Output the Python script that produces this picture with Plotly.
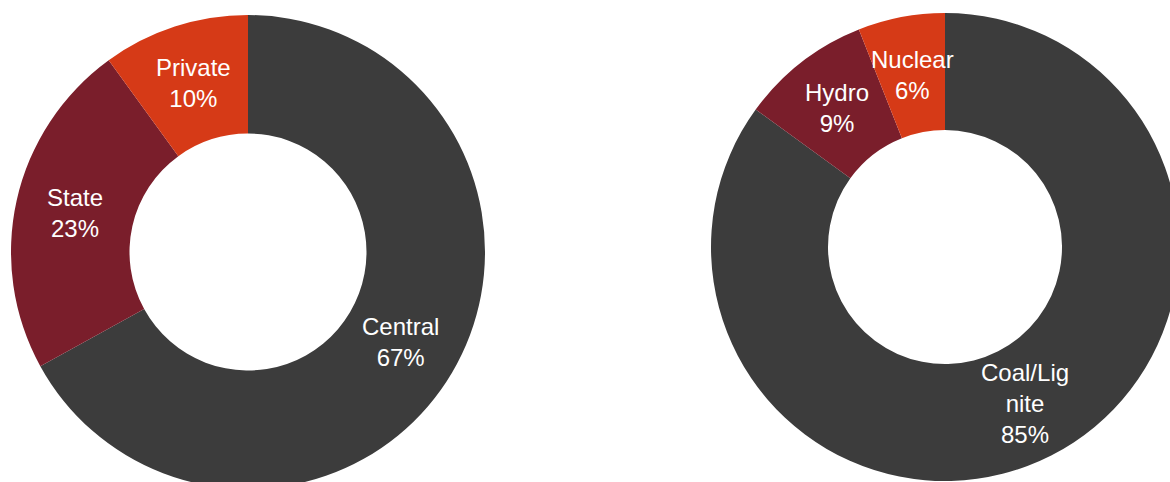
import math
import plotly.graph_objects as go

# Ownership split of installed capacity
owner_labels = ["Central", "State", "Private"]
owner_share = [67, 23, 10]

# Generation split by source
source_labels = ["Coal/Lignite", "Hydro", "Nuclear"]
source_text = ["Coal/Lig<br>nite", "Hydro", "Nuclear"]
source_share = [85, 9, 6]

slice_colors = ["#3c3c3c", "#7a1e2b", "#d63a17"]

W, H = 1190, 500
HOLE = 0.5
FONT = dict(family="Arial", size=24, color="white")

# pie centres / radii in pixels
LEFT = (248, 252, 237)
RIGHT = (945, 247, 234)


def domain(cx, cy, r):
    return dict(x=[(cx - r) / W, (cx + r) / W],
                y=[1 - (cy + r) / H, 1 - (cy - r) / H])


def ring_labels(center, texts, values):
    cx, cy, r = center
    rl = r * (1 + HOLE) / 2
    total = sum(values)
    start = 0.0
    notes = []
    for t, v in zip(texts, values):
        theta = math.radians((start + v / 2) / total * 360)
        start += v
        px = cx + rl * math.sin(theta)
        py = cy - rl * math.cos(theta)
        notes.append(dict(x=px / W, y=1 - py / H, xref="paper", yref="paper",
                          text=f"{t}<br>{v}%", showarrow=False,
                          xanchor="center", yanchor="middle", font=FONT))
    return notes


fig = go.Figure()
fig.add_trace(go.Pie(labels=owner_labels, values=owner_share, hole=HOLE,
                     sort=False, direction="clockwise", rotation=0,
                     marker=dict(colors=slice_colors, line=dict(width=0)),
                     textinfo="none", hoverinfo="label+percent",
                     domain=domain(*LEFT)))
fig.add_trace(go.Pie(labels=source_labels, values=source_share, hole=HOLE,
                     sort=False, direction="clockwise", rotation=0,
                     marker=dict(colors=slice_colors, line=dict(width=0)),
                     textinfo="none", hoverinfo="label+percent",
                     domain=domain(*RIGHT)))

fig.update_layout(
    width=W, height=H,
    margin=dict(l=0, r=0, t=0, b=0),
    paper_bgcolor="white", plot_bgcolor="white",
    showlegend=False,
    annotations=ring_labels(LEFT, owner_labels, owner_share)
    + ring_labels(RIGHT, source_text, source_share),
)

fig.write_html("out.html",
               config={"displayModeBar": False},
               post_script="document.body.style.margin='0';"
                           "document.body.style.overflow='hidden';"
                           "document.documentElement.style.overflow='hidden';")
